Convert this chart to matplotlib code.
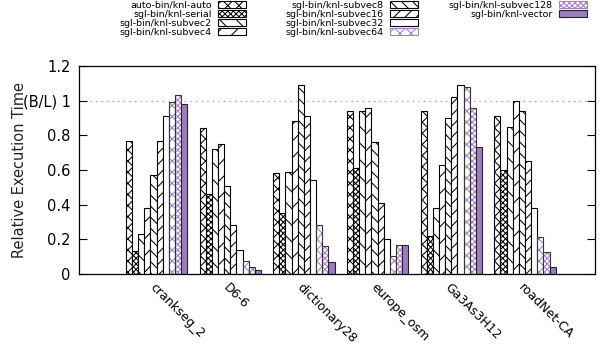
import numpy as np
import matplotlib
matplotlib.use('Agg')
import matplotlib.pyplot as plt
from matplotlib.patches import Patch

plt.rcParams['font.family'] = ['DejaVu Sans']
plt.rcParams['hatch.linewidth'] = 0.75

datasets = ['crankseg_2', 'D6-6', 'dictionary28', 'europe_osm', 'Ga3As3H12', 'roadNet-CA']
series = ['auto-bin/knl-auto', 'sgl-bin/knl-serial', 'sgl-bin/knl-subvec2', 'sgl-bin/knl-subvec4',
          'sgl-bin/knl-subvec8', 'sgl-bin/knl-subvec16', 'sgl-bin/knl-subvec32', 'sgl-bin/knl-subvec64',
          'sgl-bin/knl-subvec128', 'sgl-bin/knl-vector']

# one list per series, one value per dataset
auto = [0.77, 0.84, 0.58, 0.94, 0.94, 0.91]
serial = [0.13, 0.46, 0.35, 0.61, 0.22, 0.60]
subvec2 = [0.23, 0.72, 0.59, 0.94, 0.38, 0.85]
subvec4 = [0.38, 0.75, 0.88, 0.96, 0.63, 1.00]
subvec8 = [0.57, 0.51, 1.09, 0.76, 0.90, 0.94]
subvec16 = [0.77, 0.28, 0.91, 0.41, 1.02, 0.65]
subvec32 = [0.91, 0.14, 0.54, 0.20, 1.09, 0.38]
subvec64 = [0.99, 0.075, 0.285, 0.105, 1.08, 0.215]
subvec128 = [1.03, 0.042, 0.16, 0.17, 0.96, 0.125]
vector = [0.98, 0.021, 0.07, 0.17, 0.73, 0.04]
values = [auto, serial, subvec2, subvec4, subvec8, subvec16, subvec32, subvec64, subvec128, vector]

purple = '#9b7fba'
hatch_purple = '#a47fcc'
hatches = ['xxx', 'xxxxxx', '\\\\', '//', '\\\\\\', '///', '', 'xxx', 'xxxxxx', '']

fig = plt.figure(figsize=(6.02, 3.5), dpi=100)
ax = fig.add_axes([79 / 602, 1 - 274 / 350, 516 / 602, 208 / 350])

x = np.arange(len(datasets))
w = 1 / 12
handles = []
for j, (name, vals) in enumerate(zip(series, values)):
    pos = x + (j - 4.5) * w
    if j < 7:
        ax.bar(pos, vals, w, facecolor='white', edgecolor='black', hatch=hatches[j], linewidth=0.8)
        handles.append(Patch(facecolor='white', edgecolor='black', hatch=hatches[j], linewidth=0.8))
    elif j < 9:
        ax.bar(pos, vals, w, facecolor='white', edgecolor=hatch_purple, hatch=hatches[j], linewidth=0)
        ax.bar(pos, vals, w, fill=False, edgecolor='#333333', linewidth=0.8)
        handles.append(Patch(facecolor='white', edgecolor=hatch_purple, hatch=hatches[j], linewidth=0.8))
    else:
        ax.bar(pos, vals, w, facecolor=purple, edgecolor='#2a1f33', linewidth=0.8)
        handles.append(Patch(facecolor=purple, edgecolor='#2a1f33', linewidth=0.8))

ax.axhline(1.0, color='#888888', linestyle=(0, (1, 4)), linewidth=0.8, zorder=0)

ax.set_xlim(-1.052, 5.95)
ax.set_ylim(0, 1.2)
ax.set_yticks([0, 0.2, 0.4, 0.6, 0.8, 1.0, 1.2])
ax.set_yticklabels(['0', '0.2', '0.4', '0.6', '0.8', '(B/L) 1', '1.2'])
ax.tick_params(axis='y', direction='in', length=6, width=0.8, right=True, labelsize=10.5, pad=6)
ax.set_xticks(x)
ax.set_xticklabels(datasets, rotation=-45, ha='left', va='top', rotation_mode='anchor', fontsize=9)
ax.tick_params(axis='x', length=0, pad=5)
for s in ax.spines.values():
    s.set_linewidth(0.9)

fig.text(20 / 602, 1 - 170 / 350, 'Relative Execution Time', rotation=90, ha='center', va='center',
         fontsize=10.5, color='#222222')

cols = [(0, 4, 247), (4, 8, 419), (8, 10, 588)]
for a, b, right in cols:
    leg = fig.legend(handles[a:b], series[a:b], loc='upper right', bbox_to_anchor=(right / 602, 1.0),
                     frameon=False, fontsize=6.8, markerfirst=False, handlelength=3.0, handleheight=0.7,
                     handletextpad=0.6, labelspacing=0.0, borderpad=0.1, borderaxespad=0)

fig.savefig('out.png', dpi=100)
